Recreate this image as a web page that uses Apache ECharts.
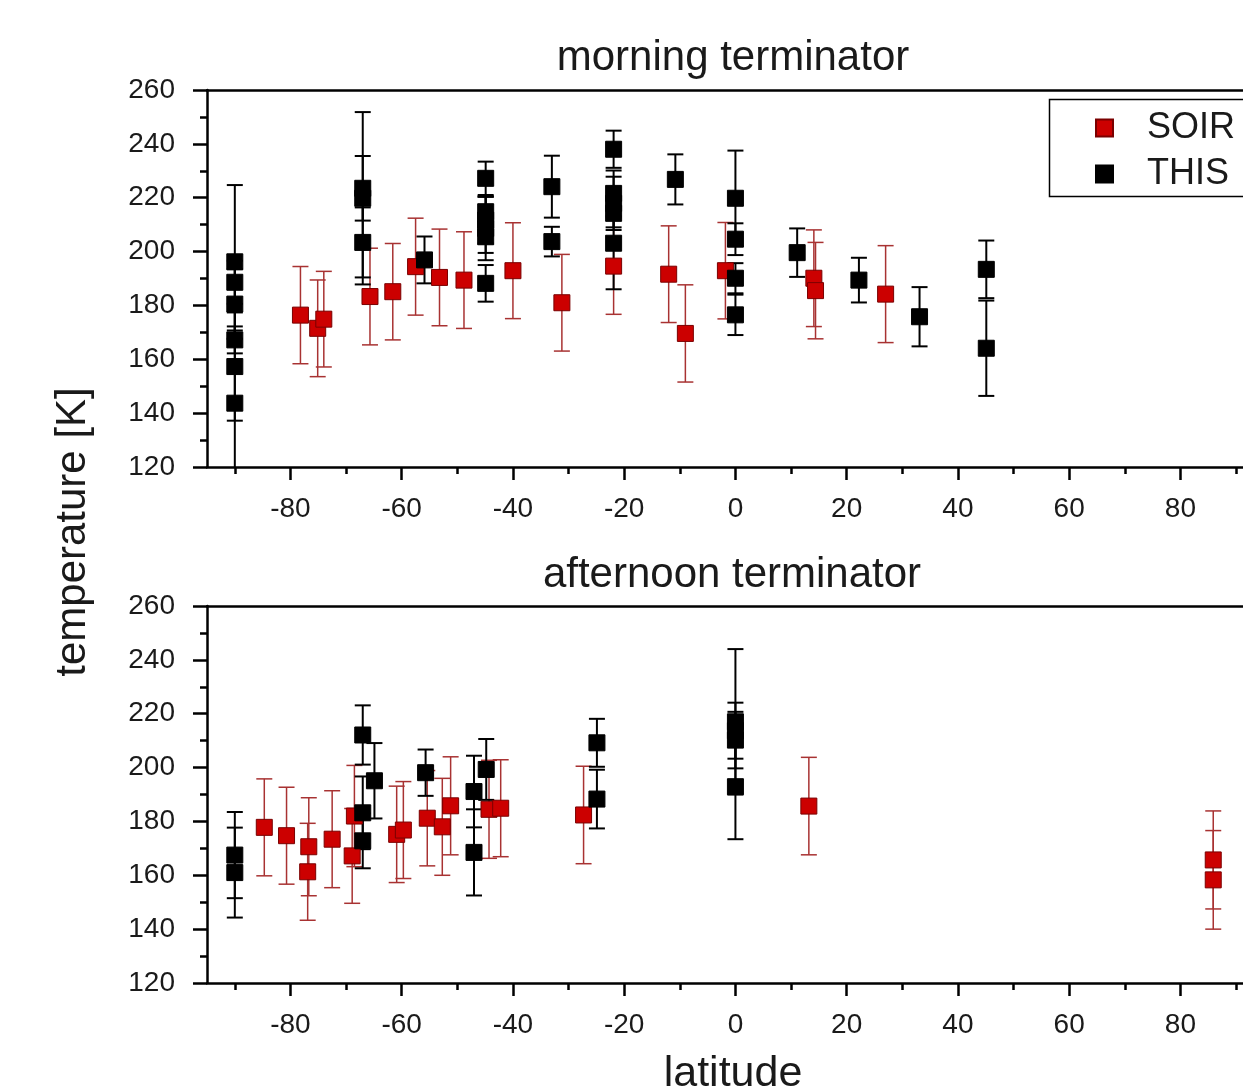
<!DOCTYPE html>
<html>
<head>
<meta charset="utf-8">
<script src="https://cdn.jsdelivr.net/npm/echarts@6/dist/echarts.min.js"></script>
<style>
html,body{margin:0;padding:0;background:#fff;}
#chart{width:1243px;height:1088px;}
</style>
</head>
<body>
<div id="chart"></div>
<script>
// ---- tick values ----
const majorTicks = [-80, -60, -40, -20, 0, 20, 40, 60, 80];
const minorTicks = [-90, -70, -50, -30, -10, 10, 30, 50, 70, 90];

// ---- morning terminator: SOIR ----
const mSoirLat  = [-78.2, -75.1, -74.0, -65.7, -61.6, -57.5, -53.2, -48.8, -40.0, -31.2, -21.9, -12.0, -9.0, -1.8, 14.1, 14.4, 27.0];
const mSoirTemp = [176.4, 171.5, 174.9, 183.3, 185.1, 194.4, 190.4, 189.4, 192.9, 181.0, 194.6, 191.6, 169.6, 192.9, 190.1, 185.5, 184.2];
const mSoirErr  = [18.05, 17.95, 17.75, 17.95, 17.9, 18.0, 17.95, 17.95, 17.8, 17.95, 17.9, 17.95, 18.05, 17.9, 17.95, 17.9, 18.0];

// ---- morning terminator: THIS ----
const mThisLat  = [-90, -90, -90, -90, -90, -90, -67, -67, -67, -55.9, -44.9, -44.9, -44.9, -44.9, -44.9, -44.9, -33.0, -33.0, -21.9, -21.9, -21.9, -21.9, -21.9, -10.8, 0, 0, 0, 0, 11.1, 22.2, 33.1, 45.1, 45.1];
const mThisTemp = [196.2, 188.6, 180.5, 167.2, 157.3, 143.7, 223.5, 219.8, 203.4, 196.9, 227.2, 214.8, 211.7, 208.6, 205.5, 188.2, 224.1, 203.7, 238.0, 221.6, 217.9, 214.2, 203.1, 226.8, 219.8, 204.6, 190.1, 176.5, 199.6, 189.4, 175.8, 193.4, 164.1];
const mThisErr  = [28.5, 8, 13, 5, 20.1, 27, 12, 32, 13, 8.7, 6.2, 5.6, 8.7, 11.8, 6, 6.8, 11.5, 5.5, 6.9, 8.5, 9.9, 5.2, 17.1, 9.3, 17.7, 5.9, 5.6, 7.5, 9, 8.3, 11, 10.7, 17.7];

// ---- afternoon terminator: SOIR ----
const aSoirLat  = [-84.7, -80.7, -76.7, -76.9, -72.5, -68.9, -68.5, -60.9, -59.7, -55.4, -52.7, -51.2, -44.3, -42.2, -27.3, 13.2, 85.9, 85.9];
const aSoirTemp = [177.8, 174.7, 170.6, 161.3, 173.4, 167.2, 182.0, 175.2, 176.8, 181.2, 178.0, 185.8, 184.5, 184.9, 182.4, 185.7, 165.7, 158.3];
const aSoirErr  = [18, 18, 18.2, 18, 18, 17.6, 18.8, 17.9, 18, 17.7, 18, 18.2, 18.2, 18, 18.1, 18.1, 18.2, 18.3];

// ---- afternoon terminator: THIS ----
const aThisLat  = [-90, -90, -67, -67, -67, -64.9, -55.7, -47.0, -47.0, -44.8, -24.9, -24.9, 0, 0, 0, 0];
const aThisTemp = [167.5, 161.0, 212.1, 183.2, 172.8, 195.1, 198.1, 191.1, 168.5, 199.3, 209.2, 188.3, 217.0, 213.7, 210.2, 192.9];
const aThisErr  = [16, 16.7, 11, 13.5, 10.2, 14, 8.6, 13.3, 16, 11.3, 8.9, 10.9, 27, 10.4, 10.5, 19.5];

const zip = (lat, t, e) => lat.map((x, i) => [x, t[i], e[i]]);

const RED = '#cc0000', RED_EDGE = '#7a0000', RED_BAR = '#a83232', BLACK = '#000000';
const FONT = '"Liberation Sans", Arial, sans-serif';
const X_MIN = -95, X_MAX = 91.25;

function errRender(color, width) {
  return function (params, api) {
    const x = api.value(0), y = api.value(1), e = api.value(2);
    const hi = api.coord([x, y + e]);
    const lo = api.coord([x, y - e]);
    const cw = 8;
    const st = { stroke: color, lineWidth: width };
    return {
      type: 'group',
      children: [
        { type: 'line', shape: { x1: hi[0], y1: hi[1], x2: lo[0], y2: lo[1] }, style: st },
        { type: 'line', shape: { x1: hi[0] - cw, y1: hi[1], x2: hi[0] + cw, y2: hi[1] }, style: st },
        { type: 'line', shape: { x1: lo[0] - cw, y1: lo[1], x2: lo[0] + cw, y2: lo[1] }, style: st }
      ]
    };
  };
}

function errSeries(name, data, gi, color, width) {
  return {
    name: name, type: 'custom', xAxisIndex: gi * 3, yAxisIndex: gi,
    renderItem: errRender(color, width), data: data, clip: true,
    encode: { x: 0, y: 1 }, silent: true, z: 2
  };
}
function ptSeries(name, data, gi, color, edge) {
  return {
    name: name, type: 'scatter', xAxisIndex: gi * 3, yAxisIndex: gi,
    symbol: 'rect', symbolSize: 16, data: data.map(d => [d[0], d[1]]),
    itemStyle: { color: color, borderColor: edge, borderWidth: 1, opacity: 1 },
    z: 3
  };
}

function xMajor(gi) {
  return {
    type: 'value', gridIndex: gi, min: X_MIN, max: X_MAX, position: 'bottom',
    axisLine: { show: true, onZero: false, lineStyle: { color: '#000', width: 2.5 } },
    axisTick: { show: true, customValues: majorTicks, length: 13, lineStyle: { color: '#000', width: 2.5 } },
    axisLabel: { show: true, customValues: majorTicks, fontSize: 28, color: '#1a1a1a', fontFamily: FONT, margin: 28 },
    splitLine: { show: false }
  };
}
function xMinor(gi) {
  return {
    type: 'value', gridIndex: gi, min: X_MIN, max: X_MAX, position: 'bottom',
    axisLine: { show: false, onZero: false },
    axisTick: { show: true, customValues: minorTicks, length: 7, lineStyle: { color: '#000', width: 2.5 } },
    axisLabel: { show: false },
    splitLine: { show: false }
  };
}
function xTop(gi) {
  return {
    type: 'value', gridIndex: gi, min: X_MIN, max: X_MAX, position: 'top',
    axisLine: { show: true, onZero: false, lineStyle: { color: '#000', width: 2.5 } },
    axisTick: { show: false }, axisLabel: { show: false }, splitLine: { show: false }
  };
}
function yAx(gi) {
  return {
    type: 'value', gridIndex: gi, min: 120, max: 260, interval: 20,
    axisLine: { show: true, onZero: false, lineStyle: { color: '#000', width: 2.5 } },
    axisTick: { show: true, length: 14, lineStyle: { color: '#000', width: 2.5 } },
    minorTick: { show: true, splitNumber: 2, length: 7, lineStyle: { color: '#000', width: 2.5 } },
    axisLabel: { fontSize: 28, color: '#1a1a1a', fontFamily: FONT, margin: 32 },
    splitLine: { show: false }, minorSplitLine: { show: false }
  };
}

const chart = echarts.init(document.getElementById('chart'), null, { renderer: 'canvas' });
chart.setOption({
  backgroundColor: '#ffffff',
  animation: false,
  textStyle: { fontFamily: FONT },
  grid: [
    { left: 207, top: 90, right: 0, height: 377, show: false },
    { left: 207, top: 606, right: 0, height: 377, show: false }
  ],
  xAxis: [xMajor(0), xMinor(0), xTop(0), xMajor(1), xMinor(1), xTop(1)],
  yAxis: [yAx(0), yAx(1)],
  legend: {
    data: ['SOIR', 'THIS'],
    orient: 'vertical', left: 1049, top: 99,
    padding: [11, 10, 7, 46], itemGap: 10,
    icon: 'rect', itemWidth: 17, itemHeight: 17,
    borderWidth: 0,
    textStyle: { fontSize: 36, color: '#1a1a1a', fontFamily: FONT, padding: [0, 0, 0, 29] },
    selectedMode: false
  },
  graphic: [
    { type: 'polyline', shape: { points: [[1250, 99.5], [1049.5, 99.5], [1049.5, 196.5], [1250, 196.5]] }, style: { stroke: '#000', lineWidth: 1.5, fill: null }, silent: true },
    { type: 'text', x: 733, y: 58, style: { text: 'morning terminator', fontSize: 42, fontFamily: FONT, fill: '#1a1a1a', textAlign: 'center', textVerticalAlign: 'middle' } },
    { type: 'text', x: 732, y: 575, style: { text: 'afternoon terminator', fontSize: 42, fontFamily: FONT, fill: '#1a1a1a', textAlign: 'center', textVerticalAlign: 'middle' } },
    { type: 'text', x: 733, y: 1074, style: { text: 'latitude', fontSize: 43, fontFamily: FONT, fill: '#1a1a1a', textAlign: 'center', textVerticalAlign: 'middle' } },
    { type: 'text', x: 73, y: 532, rotation: Math.PI / 2, style: { text: 'temperature [K]', fontSize: 42, fontFamily: FONT, fill: '#1a1a1a', textAlign: 'center', textVerticalAlign: 'middle' } }
  ],
  series: [
    errSeries('SOIR err m', zip(mSoirLat, mSoirTemp, mSoirErr), 0, RED_BAR, 1.5),
    ptSeries('SOIR', zip(mSoirLat, mSoirTemp, mSoirErr), 0, RED, RED_EDGE),
    errSeries('THIS err m', zip(mThisLat, mThisTemp, mThisErr), 0, BLACK, 2),
    ptSeries('THIS', zip(mThisLat, mThisTemp, mThisErr), 0, BLACK, BLACK),
    errSeries('SOIR err a', zip(aSoirLat, aSoirTemp, aSoirErr), 1, RED_BAR, 1.5),
    ptSeries('SOIR', zip(aSoirLat, aSoirTemp, aSoirErr), 1, RED, RED_EDGE),
    errSeries('THIS err a', zip(aThisLat, aThisTemp, aThisErr), 1, BLACK, 2),
    ptSeries('THIS', zip(aThisLat, aThisTemp, aThisErr), 1, BLACK, BLACK)
  ]
});
</script>
</body>
</html>
